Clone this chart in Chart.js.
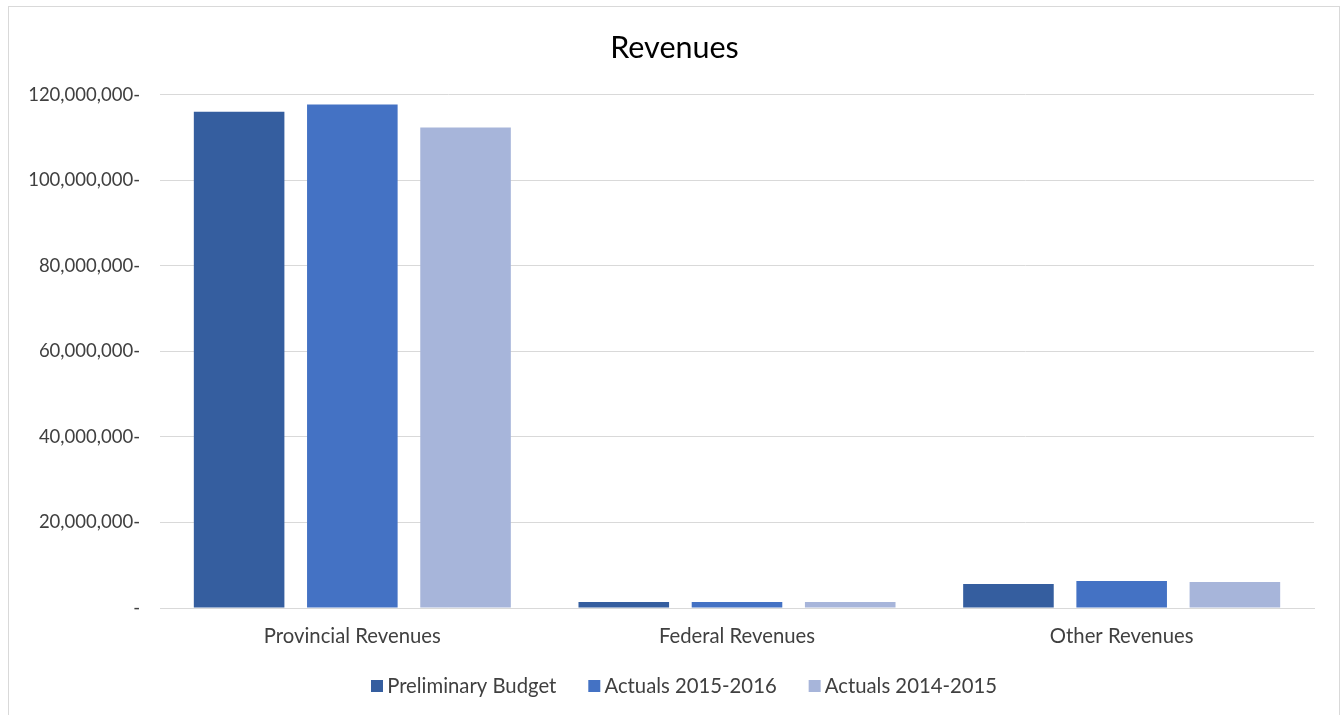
<!DOCTYPE html>
<html><head><meta charset="utf-8">
<script src="https://cdn.jsdelivr.net/npm/chart.js@4/dist/chart.umd.min.js"></script>
<style>
html,body{margin:0;padding:0;background:#fff;overflow:hidden}
#box{position:absolute;left:8px;top:6px;width:1330px;height:712px;border:1px solid #d9d9d9;}
canvas{display:block}
</style></head><body>
<div id="box"><canvas id="c" width="1330" height="712"></canvas></div>
<script>
const categories = ["Provincial Revenues", "Federal Revenues", "Other Revenues"];
const preliminaryBudget = [116000000, 1400000, 5600000];
const actuals2015_2016 = [117700000, 1400000, 6300000];
const actuals2014_2015 = [112300000, 1400000, 6100000];
const seriesNames = ["Preliminary Budget", "Actuals 2015-2016", "Actuals 2014-2015"];
const colors = ["#355E9F", "#4472C4", "#A7B5DA"];
const FONT = "Lato, 'Open Sans', sans-serif";
const TXT = "#404040";
const LEG_FONT = 20.3, LEG_PAD = 38;

const layoutTweaks = {
  id: 'layoutTweaks',
  beforeLayout(chart) {
    const lg = chart.legend;
    if (lg && !lg._patched) {
      const orig = lg.fit.bind(lg);
      lg.fit = function () { orig(); this.height = 40; };
      lg._patched = true;
    }
  },
  afterLayout(chart) {
    const lg = chart.legend;
    if (lg) {
      lg.left += 25.5; lg.right += 25.5;
      lg.top = 685 - LEG_PAD - LEG_FONT / 2 - 6;
      lg.bottom = lg.top + LEG_FONT + LEG_PAD + 10;
    }
    if (chart.titleBlock) { chart.titleBlock.left += 13; chart.titleBlock.right += 13; }
  }
};

new Chart(document.getElementById('c'), {
  type: 'bar',
  data: {
    labels: categories,
    datasets: [preliminaryBudget, actuals2015_2016, actuals2014_2015].map((d,i)=>({
      label: seriesNames[i], data: d, backgroundColor: colors[i],
      borderColor: colors[i], borderWidth: 0,
      categoryPercentage: 0.883, barPercentage: 0.8
    }))
  },
  plugins: [layoutTweaks],
  options: {
    responsive: false, animation: false,
    layout: {padding: {left: 0, right: 25, top: 14, bottom: 13.85}},
    plugins: {
      title: {display: true, text: "Revenues", color: "#000", font: {family: FONT, size: 30.5, weight: 'normal'}, padding: {top: 9, bottom: 28}},
      legend: {position: 'bottom', labels: {usePointStyle: true, pointStyle: 'rect', boxWidth: 0.01, boxHeight: 12,
        padding: LEG_PAD, color: TXT, font: {family: FONT, size: LEG_FONT}}},
      tooltip: {enabled: false}
    },
    scales: {
      x: {
        afterFit: (s) => { s.height = 57.15; },
        grid: {display: false, drawTicks: false},
        border: {display: true, color: "#d9d9d9", width: 1},
        ticks: {color: TXT, font: {family: FONT, size: 20.3}, padding: 16}
      },
      y: {
        min: 0, max: 120000000,
        afterFit: (s) => { s.width = 151; },
        grid: {color: "#d9d9d9", lineWidth: 1, drawTicks: false},
        border: {display: false},
        ticks: {stepSize: 20000000, color: TXT, font: {family: FONT, size: 18.5}, padding: 20,
          callback: (v) => v === 0 ? "-" : v.toLocaleString('en-US') + "-"}
      }
    }
  }
});
</script>
</body></html>
